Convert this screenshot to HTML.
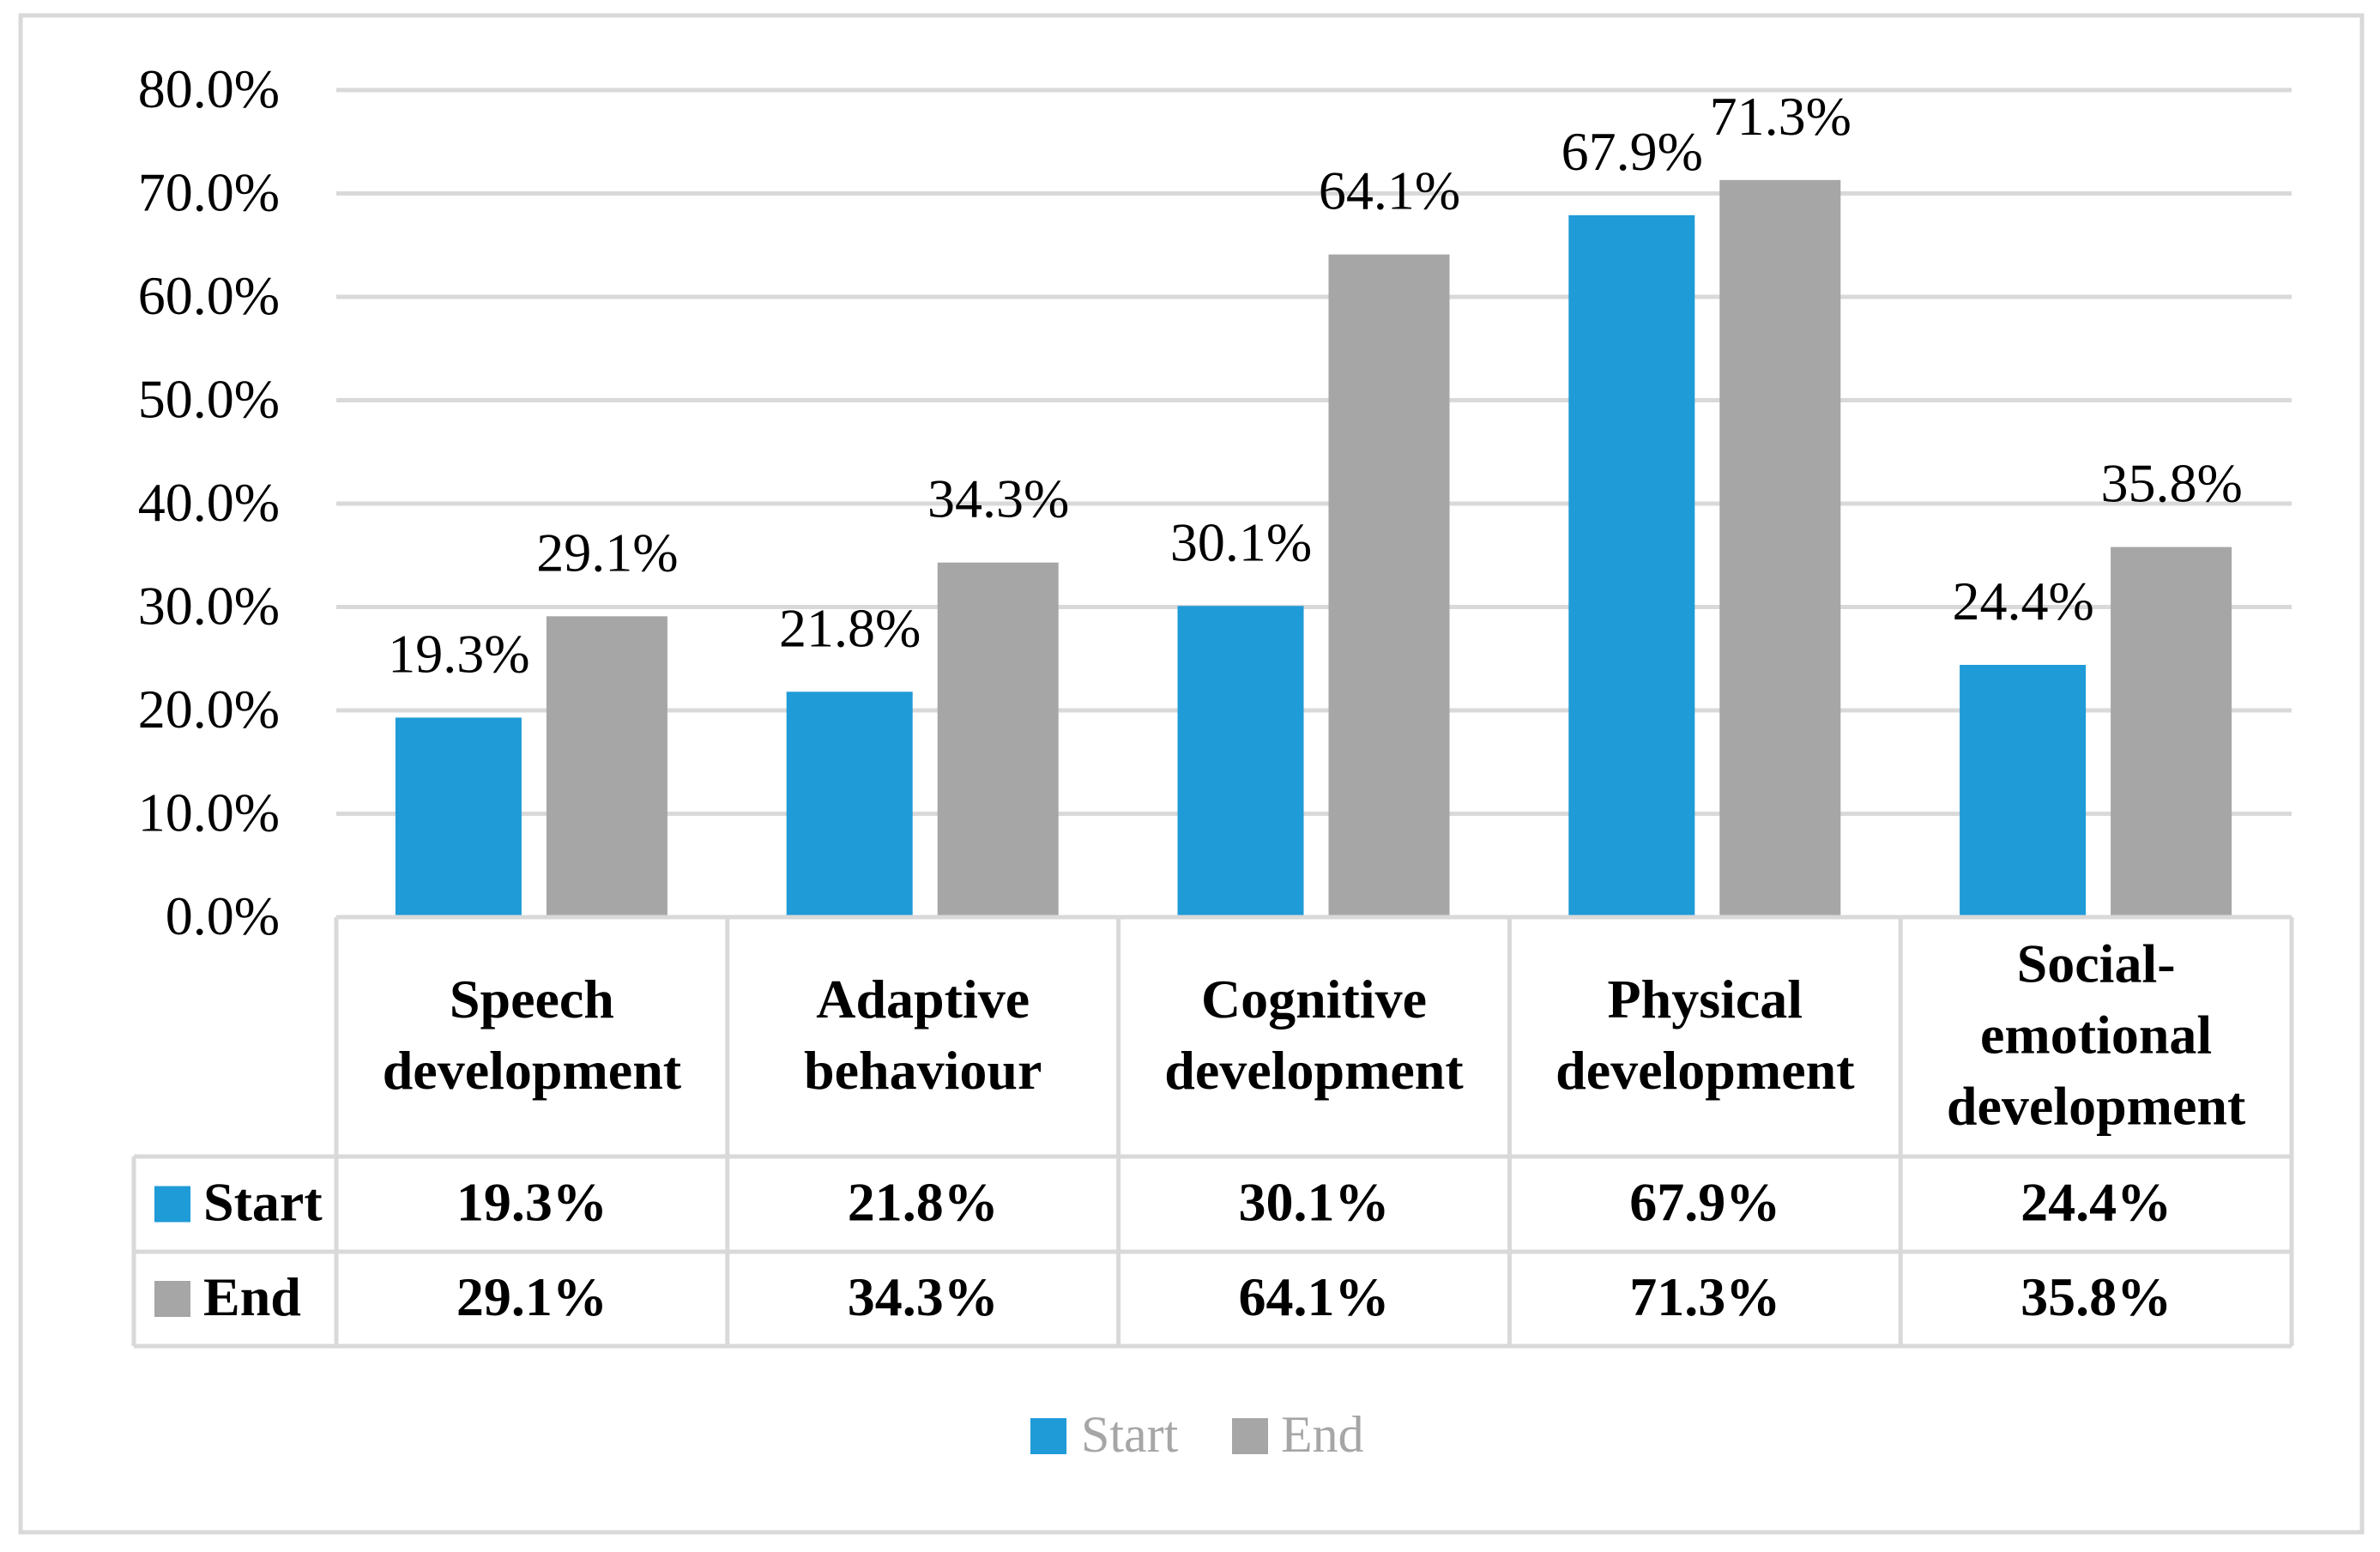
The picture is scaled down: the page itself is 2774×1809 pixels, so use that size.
<!DOCTYPE html>
<html><head><meta charset="utf-8"><style>
html,body{margin:0;padding:0;background:#fff;}
svg{display:block;font-family:"Liberation Serif",serif;}
</style></head><body>
<svg id="chart" width="2774" height="1809" viewBox="0 0 2774 1809" xmlns="http://www.w3.org/2000/svg">
<rect x="24" y="18" width="2729" height="1768" fill="#fff" stroke="#d9d9d9" stroke-width="5"/>
<g id="grid"></g><g id="bars"></g><g id="table"></g><g id="legend"></g>
</svg>
<script>
const categories = [["Speech","development"],["Adaptive","behaviour"],["Cognitive","development"],["Physical","development"],["Social-","emotional","development"]];
const startValues = [19.3, 21.8, 30.1, 67.9, 24.4];
const endValues = [29.1, 34.3, 64.1, 71.3, 35.8];
const tickValues = [0,10,20,30,40,50,60,70,80];
const seriesNames = ["Start","End"];

const NS="http://www.w3.org/2000/svg";
const X0=392, X1=2671, Y0=1069, Y80=105;
const colW=(X1-X0)/categories.length;
const yScale=v=>Y0-(v/80)*(Y0-Y80);
const xCenter=i=>X0+colW*(i+0.5);
const C_START="#1f9bd7", C_END="#a6a6a6", GRID="#d9d9d9";
function mk(tag,attrs,parent){const e=document.createElementNS(NS,tag);for(const k in attrs)e.setAttribute(k,attrs[k]);parent.appendChild(e);return e;}
const grid=document.getElementById('grid'),bars=document.getElementById('bars'),table=document.getElementById('table'),legend=document.getElementById('legend');

tickValues.forEach(t=>{
  const y=yScale(t);
  if(t>0){const l=mk('line',{x1:X0,x2:X1,y1:y,y2:y,stroke:GRID,'stroke-width':5},grid);
  
  }
  const tx=mk('text',{x:326,y:y+20,'text-anchor':'end','font-size':64,fill:'#000'},grid);
  tx.textContent=t.toFixed(1)+'%';
  
  
});

categories.forEach((c,i)=>{
  const cx=xCenter(i);
  const sv=startValues[i], ev=endValues[i];
  const b1=mk('rect',{x:cx-159,y:yScale(sv),width:147,height:Y0-yScale(sv),fill:C_START},bars);
  
  
  const b2=mk('rect',{x:cx+17,y:yScale(ev),width:141,height:Y0-yScale(ev),fill:C_END},bars);
  
  
  const l1=mk('text',{x:cx-85,y:yScale(sv)-53,'text-anchor':'middle','font-size':64},bars);
  l1.textContent=sv.toFixed(1)+'%';
  
  
  const l2=mk('text',{x:cx+88,y:yScale(ev)-53,'text-anchor':'middle','font-size':64},bars);
  l2.textContent=ev.toFixed(1)+'%';
  
  
});

// table
const T0=1069, T1=1348, T2=1459, T3=1569, TL=156;
function ln(x1,y1,x2,y2){const l=mk('line',{x1,y1,x2,y2,stroke:GRID,'stroke-width':5},table);}
ln(X0,T0,X1,T0); ln(TL,T1,X1,T1); ln(TL,T2,X1,T2); ln(TL,T3,X1,T3);
ln(TL,T1,TL,T3);
for(let i=0;i<=categories.length;i++){ln(X0+colW*i,T0,X0+colW*i,T3);}
categories.forEach((c,i)=>{
  const cx=xCenter(i);
  const lh=83, mid=(T0+T1)/2;
  const top=mid-(c.length-1)*lh/2;
  c.forEach((s,j)=>{
    const t=mk('text',{x:cx,y:top+j*lh+19,'text-anchor':'middle','font-size':64,'font-weight':'bold'},table);
    t.textContent=s;
    
    
  });
  const v1=mk('text',{x:cx,y:(T1+T2)/2+19,'text-anchor':'middle','font-size':64,'font-weight':'bold'},table);
  v1.textContent=startValues[i].toFixed(1)+'%';
  
  
  const v2=mk('text',{x:cx,y:(T2+T3)/2+19,'text-anchor':'middle','font-size':64,'font-weight':'bold'},table);
  v2.textContent=endValues[i].toFixed(1)+'%';
  
  
});
[[T1,T2,C_START,seriesNames[0]],[T2,T3,C_END,seriesNames[1]]].forEach(([a,b,col,name])=>{
  const m=(a+b)/2;
  const k=mk('rect',{x:180,y:m-21,width:42,height:42,fill:col},table);
  
  
  const t=mk('text',{x:237,y:m+19,'font-size':64,'font-weight':'bold'},table);
  t.textContent=name;
  
  
});

// legend
[[1201,C_START,1260,seriesNames[0]],[1436,C_END,1493,seriesNames[1]]].forEach(([sx,col,tx,name])=>{
  const r=mk('rect',{x:sx,y:1653,width:42,height:42,fill:col},legend);
  
  
  const t=mk('text',{x:tx,y:1692,'font-size':60,fill:'#a6a6a6'},legend);
  t.textContent=name;
  
  
});
</script>
</body></html>
